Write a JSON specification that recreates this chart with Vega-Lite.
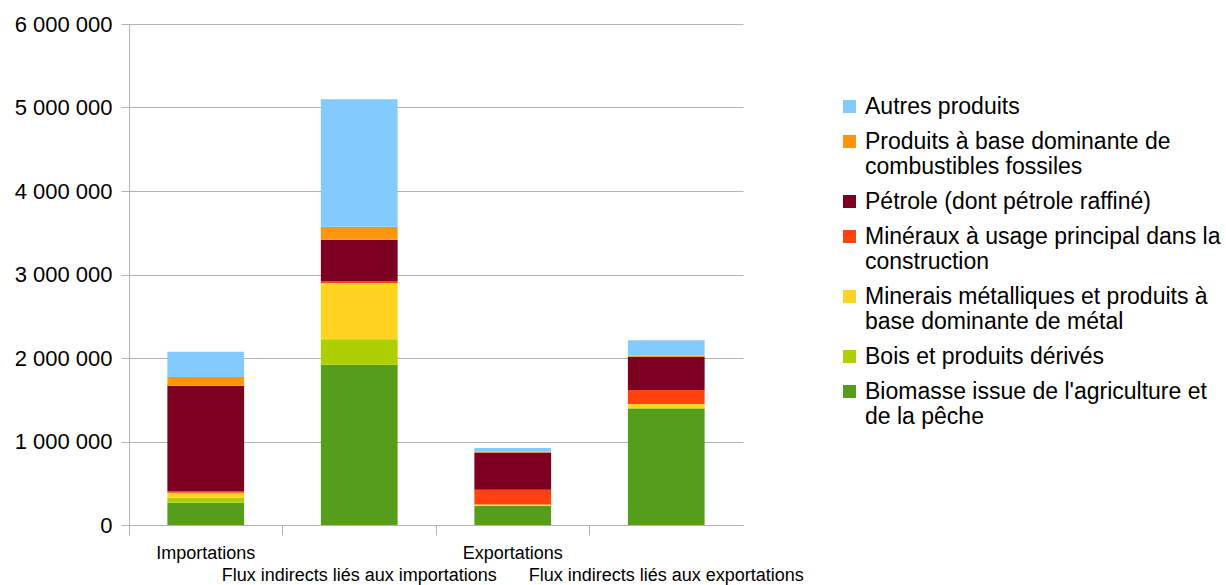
{
  "$schema": "https://vega.github.io/schema/vega-lite/v6.json",
  "width": 614,
  "height": 501,
  "autosize": "none",
  "padding": {"left": 129, "top": 24, "right": 483, "bottom": 60},
  "background": "white",
  "config": {
    "view": {"stroke": null},
    "font": "Liberation Sans"
  },
  "data": {
    "values": [
      {"flux": "Importations", "serie": "Biomasse issue de l'agriculture et de la pêche", "rang": 1, "valeur": 267000},
      {"flux": "Importations", "serie": "Bois et produits dérivés", "rang": 2, "valeur": 60000},
      {"flux": "Importations", "serie": "Minerais métalliques et produits à base dominante de métal", "rang": 3, "valeur": 60000},
      {"flux": "Importations", "serie": "Minéraux à usage principal dans la construction", "rang": 4, "valeur": 20000},
      {"flux": "Importations", "serie": "Pétrole (dont pétrole raffiné)", "rang": 5, "valeur": 1261000},
      {"flux": "Importations", "serie": "Produits à base dominante de combustibles fossiles", "rang": 6, "valeur": 104000},
      {"flux": "Importations", "serie": "Autres produits", "rang": 7, "valeur": 303000},
      {"flux": "Flux indirects liés aux importations", "serie": "Biomasse issue de l'agriculture et de la pêche", "rang": 1, "valeur": 1920000},
      {"flux": "Flux indirects liés aux importations", "serie": "Bois et produits dérivés", "rang": 2, "valeur": 304000},
      {"flux": "Flux indirects liés aux importations", "serie": "Minerais métalliques et produits à base dominante de métal", "rang": 3, "valeur": 674000},
      {"flux": "Flux indirects liés aux importations", "serie": "Minéraux à usage principal dans la construction", "rang": 4, "valeur": 24000},
      {"flux": "Flux indirects liés aux importations", "serie": "Pétrole (dont pétrole raffiné)", "rang": 5, "valeur": 495000},
      {"flux": "Flux indirects liés aux importations", "serie": "Produits à base dominante de combustibles fossiles", "rang": 6, "valeur": 156000},
      {"flux": "Flux indirects liés aux importations", "serie": "Autres produits", "rang": 7, "valeur": 1526000},
      {"flux": "Exportations", "serie": "Biomasse issue de l'agriculture et de la pêche", "rang": 1, "valeur": 227000},
      {"flux": "Exportations", "serie": "Bois et produits dérivés", "rang": 2, "valeur": 4000},
      {"flux": "Exportations", "serie": "Minerais métalliques et produits à base dominante de métal", "rang": 3, "valeur": 14000},
      {"flux": "Exportations", "serie": "Minéraux à usage principal dans la construction", "rang": 4, "valeur": 176000},
      {"flux": "Exportations", "serie": "Pétrole (dont pétrole raffiné)", "rang": 5, "valeur": 447000},
      {"flux": "Exportations", "serie": "Produits à base dominante de combustibles fossiles", "rang": 6, "valeur": 10000},
      {"flux": "Exportations", "serie": "Autres produits", "rang": 7, "valeur": 44000},
      {"flux": "Flux indirects liés aux exportations", "serie": "Biomasse issue de l'agriculture et de la pêche", "rang": 1, "valeur": 1393000},
      {"flux": "Flux indirects liés aux exportations", "serie": "Bois et produits dérivés", "rang": 2, "valeur": 8000},
      {"flux": "Flux indirects liés aux exportations", "serie": "Minerais métalliques et produits à base dominante de métal", "rang": 3, "valeur": 48000},
      {"flux": "Flux indirects liés aux exportations", "serie": "Minéraux à usage principal dans la construction", "rang": 4, "valeur": 168000},
      {"flux": "Flux indirects liés aux exportations", "serie": "Pétrole (dont pétrole raffiné)", "rang": 5, "valeur": 399000},
      {"flux": "Flux indirects liés aux exportations", "serie": "Produits à base dominante de combustibles fossiles", "rang": 6, "valeur": 12000},
      {"flux": "Flux indirects liés aux exportations", "serie": "Autres produits", "rang": 7, "valeur": 184000}
    ]
  },
  "mark": {"type": "bar"},
  "encoding": {
    "x": {
      "field": "flux",
      "type": "nominal",
      "sort": ["Importations", "Flux indirects liés aux importations", "Exportations", "Flux indirects liés aux exportations"],
      "scale": {"paddingInner": 0.5, "paddingOuter": 0.25},
      "axis": {
        "title": null,
        "labelAngle": 0,
        "bandPosition": -0.5,
        "labelFontSize": 18,
        "labelColor": "#000000",
        "labelBaseline": "top",
        "labelLineHeight": 22,
        "labelPadding": 9,
        "labelLimit": 400,
        "labelExpr": "(datum.value == 'Flux indirects liés aux importations' || datum.value == 'Flux indirects liés aux exportations') ? ['', datum.value] : datum.value",
        "tickSize": 10,
        "tickColor": "#b3b3b3",
        "domainColor": "#b3b3b3",
        "grid": false
      }
    },
    "y": {
      "field": "valeur",
      "type": "quantitative",
      "stack": "zero",
      "scale": {"domain": [0, 6000000], "nice": false},
      "axis": {
        "title": null,
        "values": [0, 1000000, 2000000, 3000000, 4000000, 5000000, 6000000],
        "labelExpr": "replace(format(datum.value, ','), /,/g, ' ')",
        "labelFontSize": 22,
        "labelColor": "#000000",
        "labelPadding": 9,
        "tickSize": 8,
        "tickColor": "#b3b3b3",
        "domainColor": "#b3b3b3",
        "gridColor": "#b3b3b3",
        "grid": true
      }
    },
    "color": {
      "field": "serie",
      "type": "nominal",
      "scale": {
        "domain": ["Autres produits", "Produits à base dominante de combustibles fossiles", "Pétrole (dont pétrole raffiné)", "Minéraux à usage principal dans la construction", "Minerais métalliques et produits à base dominante de métal", "Bois et produits dérivés", "Biomasse issue de l'agriculture et de la pêche"],
        "range": ["#83caff", "#ff950e", "#7e0021", "#ff420e", "#ffd320", "#aecf00", "#579d1c"]
      },
      "legend": {
        "title": null,
        "orient": "none",
        "legendX": 709,
        "legendY": 71,
        "symbolType": "square",
        "symbolSize": 169,
        "symbolStrokeWidth": 0,
        "symbolOpacity": 1,
        "labelFontSize": 23,
        "labelColor": "#000000",
        "labelOffset": 4,
        "labelLimit": 400,
        "rowPadding": 11,
        "labelExpr": "datum.label == 'Produits à base dominante de combustibles fossiles' ? ['Produits à base dominante de', 'combustibles fossiles'] : datum.label == 'Minéraux à usage principal dans la construction' ? ['Minéraux à usage principal dans la', 'construction'] : datum.label == 'Minerais métalliques et produits à base dominante de métal' ? ['Minerais métalliques et produits à', 'base dominante de métal'] : datum.label == \"Biomasse issue de l'agriculture et de la pêche\" ? [\"Biomasse issue de l'agriculture et\", 'de la pêche'] : datum.label"
      }
    },
    "order": {"field": "rang", "type": "quantitative"}
  }
}
